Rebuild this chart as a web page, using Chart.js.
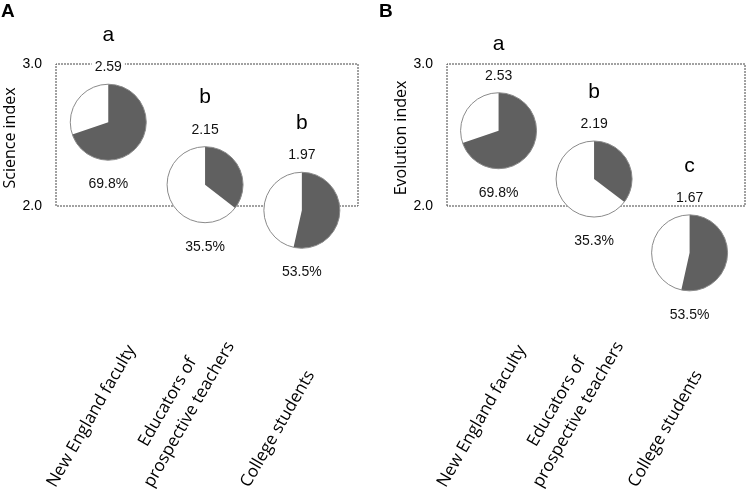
<!DOCTYPE html>
<html lang="en">
<head>
  <meta charset="UTF-8" />
  <title>Science and evolution index by group</title>
  <script src="https://cdn.jsdelivr.net/npm/chart.js"></script>
  <style>
    body { margin: 0; background: #fff; }
    .wrap { position: relative; width: 747px; height: 492px; }
    .panel { position: absolute; top: 0; height: 492px; }
    .tag { position: absolute; top: 0; font: bold 19px "Liberation Sans", Arial, sans-serif; color: #000; }
  </style>
</head>
<body>
  <div class="wrap">
    <div class="panel" style="left:0;width:373px"><canvas id="chartA"></canvas></div>
    <div class="panel" style="left:373px;width:374px"><canvas id="chartB"></canvas></div>
    <div class="tag" style="left:1px">A</div>
    <div class="tag" style="left:379px">B</div>
  </div>

  <script>
    // groups on the x axis
    const categories = ["New England faculty", ["Educators of", "prospective teachers"], "College students"];
    // mean index per group
    const scienceIndex = [2.59, 2.15, 1.97];
    const evolutionIndex = [2.53, 2.19, 1.67];
    // percent shown as the dark slice
    const scienceShare = [69.8, 35.5, 53.5];
    const evolutionShare = [69.8, 35.3, 53.5];
    // significance letters
    const scienceLetters = ["a", "b", "b"];
    const evolutionLetters = ["a", "b", "c"];
    // y ticks (the dotted box runs between them)
    const yTicks = [2.0, 3.0];

    const X_MIN = 0.46, X_MAX = 3.58;
    const Y_MIN = 1.1, Y_MAX = 3.25;
    const PIE_R = 38;
    const LABEL_FONT = '"Open Sans", sans-serif';
    const NUM_FONT = '"Liberation Sans", Arial, sans-serif';

    // draws a pie at every point of dataset 1, its labels, the group names and the y title
    const pieMarks = {
      id: "pieMarks",
      afterDatasetsDraw(chart, args, opts) {
        const ctx = chart.ctx;
        const meta = chart.getDatasetMeta(1);
        const xScale = chart.scales.x;
        const yScale = chart.scales.y;
        const area = chart.chartArea;
        ctx.save();
        meta.data.forEach((pt, i) => {
          const cx = pt.x, cy = pt.y;
          const start = -Math.PI / 2;
          const end = start + opts.shares[i] / 100 * Math.PI * 2;
          ctx.beginPath();
          ctx.arc(cx, cy, PIE_R, 0, Math.PI * 2);
          ctx.fillStyle = "#fff";
          ctx.fill();
          ctx.beginPath();
          ctx.moveTo(cx, cy);
          ctx.arc(cx, cy, PIE_R, start, end);
          ctx.closePath();
          ctx.fillStyle = "#606060";
          ctx.fill();
          ctx.beginPath();
          ctx.arc(cx, cy, PIE_R, 0, Math.PI * 2);
          ctx.lineWidth = 1;
          ctx.strokeStyle = "#8a8a8a";
          ctx.stroke();

          ctx.textAlign = "center";
          ctx.textBaseline = "middle";
          ctx.font = "14px " + NUM_FONT;
          const valText = opts.values[i].toFixed(2);
          const vy = cy - PIE_R - 17;
          const w = ctx.measureText(valText).width;
          ctx.fillStyle = "#fff";
          ctx.fillRect(cx - w / 2 - 3, vy - 7, w + 6, 14);
          ctx.fillStyle = "#111";
          ctx.fillText(valText, cx, vy);
          ctx.fillText(opts.shares[i].toFixed(1) + "%", cx, cy + PIE_R + 24);
          ctx.font = "21px " + NUM_FONT;
          ctx.fillStyle = "#000";
          ctx.fillText(opts.letters[i], cx, cy - PIE_R - 49);
        });

        // group names, rotated; longest line starts at the anchor, other lines centred on it
        ctx.font = "17px " + LABEL_FONT;
        ctx.fillStyle = "#000";
        ctx.textAlign = "left";
        categories.forEach((c, i) => {
          const lines = Array.isArray(c) ? c : [c];
          const widths = lines.map(ln => ctx.measureText(ln).width);
          const maxW = Math.max(...widths);
          const longest = widths.indexOf(maxW);
          ctx.save();
          ctx.translate(xScale.getPixelForValue(i + 1) - 57, area.bottom + 152);
          ctx.rotate(-Math.PI / 3);
          lines.forEach((ln, j) => {
            ctx.fillText(ln, (maxW - widths[j]) / 2, (j - longest) * 25);
          });
          ctx.restore();
        });

        ctx.textAlign = "center";
        ctx.translate(area.left - 46, yScale.getPixelForValue(2.5) + 3);
        ctx.rotate(-Math.PI / 2);
        ctx.font = "16px " + LABEL_FONT;
        ctx.fillText(opts.title, 0, 0);
        ctx.restore();
      }
    };

    function makePanel(id, values, shares, letters, title, padLeft, padRight, yWidth) {
      const boxPoints = [
        { x: X_MIN, y: yTicks[0] }, { x: X_MIN, y: yTicks[1] },
        { x: X_MAX, y: yTicks[1] }, { x: X_MAX, y: yTicks[0] },
        { x: X_MIN, y: yTicks[0] }
      ];
      const points = values.map((v, i) => ({ x: i + 1, y: v }));

      new Chart(document.getElementById(id), {
        type: "scatter",
        data: {
          datasets: [
            {
              label: "box",
              data: boxPoints,
              showLine: true,
              borderColor: "#444",
              borderWidth: 1,
              borderDash: [2, 1],
              pointRadius: 0,
              fill: false,
              clip: false
            },
            {
              label: title,
              data: points,
              pointRadius: 0,
              pointHitRadius: PIE_R
            }
          ]
        },
        options: {
          responsive: true,
          maintainAspectRatio: false,
          animation: false,
          layout: { padding: { top: 28.5, left: padLeft, right: padRight, bottom: 158.2 } },
          plugins: {
            legend: { display: false },
            tooltip: { enabled: false },
            pieMarks: { values: values, shares: shares, letters: letters, title: title }
          },
          scales: {
            x: {
              type: "linear",
              display: false,
              min: X_MIN,
              max: X_MAX
            },
            y: {
              min: Y_MIN,
              max: Y_MAX,
              grid: { display: false },
              border: { display: false },
              afterBuildTicks: s => { s.ticks = yTicks.map(v => ({ value: v })); },
              afterFit: s => { s.width = yWidth; },
              ticks: {
                padding: 6,
                color: "#000",
                font: { family: NUM_FONT, size: 14 },
                callback: v => v.toFixed(1)
              }
            }
          }
        },
        plugins: [pieMarks]
      });
    }

    makePanel("chartA", scienceIndex, scienceShare, scienceLetters, "Science index", 0, 15, 56);
    makePanel("chartB", evolutionIndex, evolutionShare, evolutionLetters, "Evolution index", 20, 2, 54);
  </script>
</body>
</html>
